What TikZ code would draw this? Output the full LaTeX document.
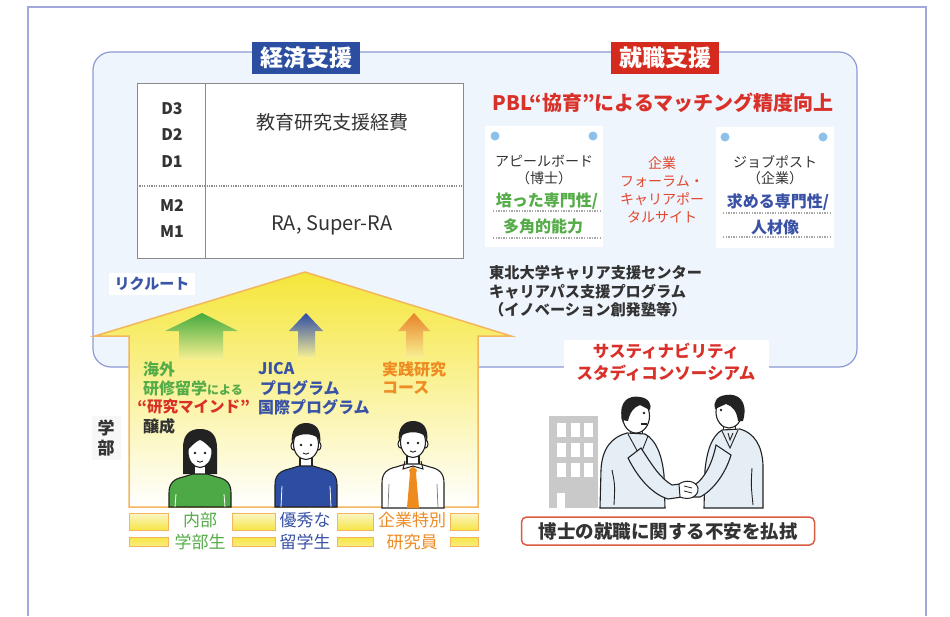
\documentclass[tikz,border=0pt]{standalone}
\usepackage{fontspec}
\setmainfont{Noto Sans CJK JP}
\newcommand\fsz[2]{\fontsize{#1}{#2}\selectfont}

\definecolor{frameC}{HTML}{A3A8DC}
\definecolor{boxFill}{HTML}{EEF5FC}
\definecolor{boxLine}{HTML}{8D9AD6}
\definecolor{keiBlue}{HTML}{2C4EA1}
\definecolor{shuRed}{HTML}{D52B1E}
\definecolor{pblRed}{HTML}{D9302A}
\definecolor{txt}{HTML}{333333}
\definecolor{tblLine}{HTML}{8A8A8A}
\definecolor{dotBlue}{HTML}{8DC0EA}
\definecolor{dotGrey}{HTML}{A8A8A8}
\definecolor{gTxt}{HTML}{55AC48}
\definecolor{bTxt}{HTML}{3A52A6}
\definecolor{oTxt}{HTML}{EE8B22}
\definecolor{midRed}{HTML}{E2472F}
\definecolor{recBlue}{HTML}{3A56A8}
\definecolor{houseLine}{HTML}{F3B65C}
\definecolor{houseTop}{HTML}{F5E63A}
\definecolor{arrG}{HTML}{45AA3E}
\definecolor{arrB}{HTML}{2E4CA5}
\definecolor{arrO}{HTML}{E8822A}
\definecolor{sweaterG}{HTML}{4DA945}
\definecolor{sweaterB}{HTML}{2D4DA3}
\definecolor{tieOr}{HTML}{EF8A1C}
\definecolor{ink}{HTML}{222222}
\definecolor{barY}{HTML}{F6E545}
\definecolor{barL}{HTML}{FBF6C8}
\definecolor{bldGrey}{HTML}{C9C9C9}
\definecolor{suit}{HTML}{E5EDF5}
\definecolor{anxRed}{HTML}{DA5C42}

\tikzset{
  keybox/.style={inner sep=0pt, minimum width=108, minimum height=32, text=white, font=\fsz{23}{26}\bfseries},
  plain/.style={inner sep=0pt, text=txt, align=center},
  card/.style={fill=white, inner sep=0pt, minimum width=118, minimum height=121},
  dotrule/.style={dotGrey, line width=1.2, dash pattern=on 1.3pt off 1.3pt},
  htext/.style={inner sep=0pt, anchor=west, font=\fsz{16}{19}\bfseries},
  bar/.style={top color=barL, bottom color=barY, draw=houseLine, line width=1},
  pics/torso/.style n args={2}{code={
    \filldraw[fill=#1, draw=ink, line width=1.1]
      (-31,#2) -- (-31,41) .. controls (-31,31) and (-26,27) .. (-17,25)
      -- (-7,22) -- (7,22) -- (17,25) .. controls (26,27) and (31,31) .. (31,41)
      -- (31,#2) -- cycle;
  }},
  pics/neck/.style={code={
    \filldraw[fill=white, draw=ink, line width=1.1] (-6,10) rectangle (6,23);
  }},
  pics/face/.style={code={
    \filldraw[fill=white, draw=ink, line width=1] (-12.5,2) ellipse (2.5 and 4);
    \filldraw[fill=white, draw=ink, line width=1] (12.5,2) ellipse (2.5 and 4);
    \filldraw[fill=white, draw=ink, line width=1.1] (0,0) ellipse (12.5 and 15.5);
    \fill[ink] (-5,1) circle (1.4) (5,1) circle (1.4);
    \draw[ink, line width=0.9] (-3,9) .. controls (0,10.5) .. (3,9);
  }},
  pics/manhair/.style={code={
    \fill[ink] (-14,0) .. controls (-16,-14) and (-9,-21) .. (0,-21)
      .. controls (10,-21) and (16,-14) .. (14,0) -- (12,-6)
      .. controls (6,-11) and (-6,-11) .. (-12,-6) -- cycle;
  }},
}

\begin{document}
\begin{tikzpicture}[x=1pt, y=-1pt]
\useasboundingbox (0,0) rectangle (950,616);
\fill[white] (0,0) rectangle (950,616);

% outer frame
\draw[frameC, line width=2] (28,616) -- (28,7) -- (926,7) -- (926,616);

% support area
\draw[fill=boxFill, draw=boxLine, line width=1.2, rounded corners=18] (93,52) rectangle (857,367);
\node[keybox, fill=keiBlue] (keizai) at (306,58) {経済支援};
\node[keybox, fill=shuRed] (shushoku) at (665,58) {就職支援};

% funding table
\node[draw=tblLine, fill=white, line width=1, minimum width=326, minimum height=175, inner sep=0pt, anchor=north west] (tbl) at (137,83) {};
\draw[tblLine, line width=1] (205,83) -- (205,258);
\draw[tblLine, line width=1.1, dash pattern=on 1.2pt off 1.2pt] (137,186) -- (463,186);
\foreach \lab/\yy in {D3/109, D2/135, D1/162, M2/206, M1/232}
  \node[plain, font=\fsz{16}{18}\bfseries] (lv\lab) at (172,\yy) {\lab};
\node[plain, font=\fsz{19}{22}] (kyoiku) at (332,122) {教育研究支援経費};
\node[plain, font=\fsz{20}{22}] (ra) at (332,225) {RA, Super-RA};

% matching
\node[plain, text=pblRed, font=\fsz{20}{22}\bfseries] (pbl) at (663,103) {PBL“協育”によるマッチング精度向上};

\node[card] (appeal) at (544,186.5) {};
\fill[dotBlue] (495,136) circle (4.5) (593,136) circle (4.5);
\node[plain, font=\fsz{14}{16}] (appealT) at (544,161) {アピールボード};
\node[plain, font=\fsz{14}{16}] (appealS) at (544,178) {（博士）};
\node[plain, text=gTxt, font=\fsz{16}{18}\bfseries] (skillA) at (547,201) {培った専門性/};
\draw[dotrule] (493,211) -- (600,211);
\node[plain, text=gTxt, font=\fsz{16}{18}\bfseries] (skillB) at (543,226) {多角的能力};
\draw[dotrule] (493,238) -- (600,238);

\node[card] (jobpost) at (775,187.5) {};
\fill[dotBlue] (725,137) circle (4.5) (823,137) circle (4.5);
\node[plain, font=\fsz{14}{16}] (jobT) at (775,162) {ジョブポスト};
\node[plain, font=\fsz{14}{16}] (jobS) at (775,178) {（企業）};
\node[plain, text=bTxt, font=\fsz{16}{18}\bfseries] (needA) at (778,202) {求める専門性/};
\draw[dotrule] (723,213) -- (830,213);
\node[plain, text=bTxt, font=\fsz{16}{18}\bfseries] (needB) at (775,227) {人材像};
\draw[dotrule] (723,237) -- (830,237);

\node[plain, text=midRed, font=\fsz{14}{18}] (forum) at (662,190) {企業\\フォーラム・\\キャリアポー\\タルサイト};

\node[plain, anchor=west, align=left, font=\fsz{15.2}{18.5}\bfseries] (center) at (489,291.5)
  {東北大学キャリア支援センター\\キャリアパス支援プログラム\\（イノベーション創発塾等）};

\node[fill=white, inner xsep=6, inner ysep=4, text=recBlue, font=\fsz{15}{17}\bfseries] (recruit) at (152,284) {リクルート};

% faculty house
\shade[top color=houseTop, middle color=houseTop!50!white, bottom color=white]
  (95,336) -- (305,272) -- (511,336) -- (478,336) -- (478,507) -- (129,507) -- (129,336) -- cycle;
\draw[houseLine, line width=1.5, line join=miter]
  (95,336) -- (305,272) -- (511,336) -- (478,336) -- (478,507) -- (129,507) -- (129,336) -- cycle;

% upward arrows
\shade[top color=arrG, middle color=arrG, bottom color=houseTop!55!white]
  (202,313) -- (238,331) -- (223,331) -- (223,360) -- (179,360) -- (179,331) -- (165,331) -- cycle;
\shade[top color=arrB, middle color=arrB, bottom color=houseTop!55!white]
  (306,313) -- (323,331) -- (315,331) -- (315,358) -- (298,358) -- (298,331) -- (289,331) -- cycle;
\shade[top color=arrO, middle color=arrO, bottom color=houseTop!55!white]
  (414,313) -- (430,331) -- (423,331) -- (423,358) -- (406,358) -- (406,331) -- (398,331) -- cycle;

\node[htext, text=gTxt] (abroadA) at (143,369) {海外};
\node[htext, text=gTxt] (abroadB) at (143,388) {研修留学{\fsz{12}{14}による}};
\node[htext, text=pblRed, font=\fsz{15.5}{19}\bfseries] (mind) at (141,407) {\makebox[6pt][r]{“}研究マインド\makebox[6pt][l]{”}};
\node[htext, text=txt] (jousei) at (143,426) {醸成};
\node[htext, text=bTxt] (jica) at (258,369) {JICA};
\node[htext, text=bTxt] (progA) at (260,388) {プログラム};
\node[htext, text=bTxt] (progB) at (258,407) {国際プログラム};
\node[htext, text=oTxt] (pracA) at (382,369) {実践研究};
\node[htext, text=oTxt] (pracB) at (382,388) {コース};

\node[fill=black!3, inner xsep=6, inner ysep=4, text=txt, align=center, font=\fsz{17}{20}\bfseries] (gakubu) at (106,438) {学\\部};

% students
\begin{scope}[shift={(200,452)}]
  \fill[ink] (-17,22) -- (-17,-4) .. controls (-17,-19) and (-9,-23) .. (0,-23)
    .. controls (9,-23) and (17,-19) .. (17,-4) -- (17,22) -- cycle;
  \pic {neck};
  \pic {torso={sweaterG}{55}};
  \draw[white, line width=0.8] (-24,42) -- (-25,55) (24,42) -- (25,55);
  \filldraw[fill=white, draw=ink, line width=1.1] (0,0) ellipse (12 and 15.5);
  \fill[ink] (-5,1) circle (1.4) (5,1) circle (1.4);
  \draw[ink, line width=0.9] (-3,9) .. controls (0,10.5) .. (3,9);
  \fill[ink] (-13,-1) .. controls (-13,-15) and (-6,-18) .. (0,-18)
    .. controls (6,-18) and (13,-15) .. (13,-1) .. controls (8,-7) and (2,-12) .. (0,-12)
    .. controls (-2,-12) and (-8,-7) .. (-13,-1) -- cycle;
\end{scope}

\begin{scope}[shift={(306,444)}]
  \pic {neck};
  \pic {torso={sweaterB}{63}};
  \draw[white, line width=0.8] (-24,42) -- (-25,63) (24,42) -- (25,63);
  \pic {face};
  \pic {manhair};
\end{scope}

\begin{scope}[shift={(413,442)}]
  \pic {neck};
  \pic {torso={white}{66}};
  \fill[tieOr] (0,24) -- (-4,28) -- (-3,31) -- (-6,66) -- (6,66) -- (3,31) -- (4,28) -- cycle;
  \draw[ink, line width=1] (-8,19) -- (-10,27) -- (0,24) -- (10,27) -- (8,19);
  \draw[ink!60, line width=0.7] (-24,42) -- (-25,66) (24,42) -- (25,66);
  \pic {face};
  \pic {manhair};
\end{scope}

% name bars
\foreach \xa/\xb in {129/168, 232/275, 337/373, 450/478} {
  \shadedraw[bar] (\xa,513) rectangle (\xb,530);
  \shadedraw[bar, top color=barY, bottom color=barY!70!white] (\xa,537) rectangle (\xb,546);
}
\node[plain, text=gTxt, font=\fsz{17}{19}] (naibuA) at (200,520) {内部};
\node[plain, text=gTxt, font=\fsz{17}{19}] (naibuB) at (200,542) {学部生};
\node[plain, text=bTxt, font=\fsz{17}{19}] (ryuA) at (305,520) {優秀な};
\node[plain, text=bTxt, font=\fsz{17}{19}] (ryuB) at (305,542) {留学生};
\node[plain, text=oTxt, font=\fsz{17}{19}] (kigyoA) at (412,520) {企業特別};
\node[plain, text=oTxt, font=\fsz{17}{19}] (kigyoB) at (412,542) {研究員};

% consortium
\node[fill=white, minimum width=205, minimum height=44, inner sep=0pt, align=center, text=pblRed, font=\fsz{16.5}{22}\bfseries] (sustain) at (666,362) {サスティナビリティ\\スタディコンソーシアム};

% company building
\fill[bldGrey] (549,416) rectangle (598,508);
\foreach \wx in {557,571,584}
  \foreach \wy in {423,443,463}
    \fill[white] (\wx,\wy) rectangle ++(8.5,14);
\fill[white] (557,493) rectangle (565,508);

% handshake: left man
\filldraw[fill=white, draw=ink, line width=1] (630,425) rectangle (642,440);
\filldraw[fill=suit, draw=ink, line width=1.1] (600,508) -- (601,470) .. controls (602,448) and (612,437) .. (627,433)
  -- (645,434) .. controls (656,440) and (662,455) .. (664,475) -- (665,508) -- cycle;
\draw[ink, line width=0.9] (628,434) -- (640,456) -- (648,436);
\draw[ink, line width=0.9] (612,470) .. controls (615,485) .. (614,505);
\filldraw[fill=white, draw=ink, line width=1] (625,418) ellipse (3 and 4.5);
\filldraw[fill=white, draw=ink, line width=1.1] (636,416) ellipse (13.5 and 17);
\fill[ink] (622,420) .. controls (618,400) and (630,395) .. (640,397) .. controls (649,398) and (652,405) .. (650,410)
  -- (640,405) .. controls (634,407) and (630,412) .. (628,421) -- cycle;
\fill[ink] (644,413) circle (1.3);
\draw[ink, line width=1.2] (641,424) -- (647,424);
\filldraw[fill=suit, draw=ink, line width=1.1] (641,448) .. controls (652,465) and (660,478) .. (672,485)
  -- (680,484) -- (682,497) -- (668,499) .. controls (652,494) and (638,478) .. (628,458) -- cycle;

% handshake: right man
\filldraw[fill=white, draw=ink, line width=1] (723,421) rectangle (735,436);
\filldraw[fill=suit, draw=ink, line width=1.1] (763,508) -- (763,465) .. controls (762,445) and (754,433) .. (740,429)
  -- (722,430) .. controls (712,436) and (707,450) .. (705,470) -- (704,508) -- cycle;
\draw[ink, line width=0.9] (722,431) -- (730,448) -- (738,430);
\draw[ink, line width=0.9] (728,433) -- (730,440) -- (733,433);
\draw[ink, line width=0.9] (752,468) .. controls (751,485) .. (753,505);
\filldraw[fill=white, draw=ink, line width=1] (740,414) ellipse (3 and 4.5);
\filldraw[fill=white, draw=ink, line width=1.1] (729,412) ellipse (13 and 16);
\fill[ink] (743,421) .. controls (749,400) and (737,393) .. (726,395) .. controls (716,396) and (713,403) .. (715,409)
  -- (726,404) .. controls (733,406) and (737,412) .. (738,421) -- cycle;
\fill[ink] (721,410) circle (1.3);
\filldraw[fill=suit, draw=ink, line width=1.1] (716,445) .. controls (712,465) and (704,478) .. (696,484)
  -- (688,485) -- (688,497) -- (700,497) .. controls (714,490) and (726,472) .. (731,455) -- cycle;

% clasped hands
\filldraw[fill=white, draw=ink, line width=1] (679,484) .. controls (686,479) and (696,481) .. (698,488)
  .. controls (699,496) and (690,501) .. (680,497) -- cycle;
\draw[ink, line width=0.8] (684,486) -- (692,488) (684,491) -- (692,493);

% closing message
\node[draw=anxRed, line width=1.5, rounded corners=5, fill=white, minimum width=293, minimum height=28, inner sep=0pt,
  text=txt, font=\fsz{18.5}{21}\bfseries] (anxiety) at (668,531) {博士の就職に関する不安を払拭};
\end{tikzpicture}
\end{document}
